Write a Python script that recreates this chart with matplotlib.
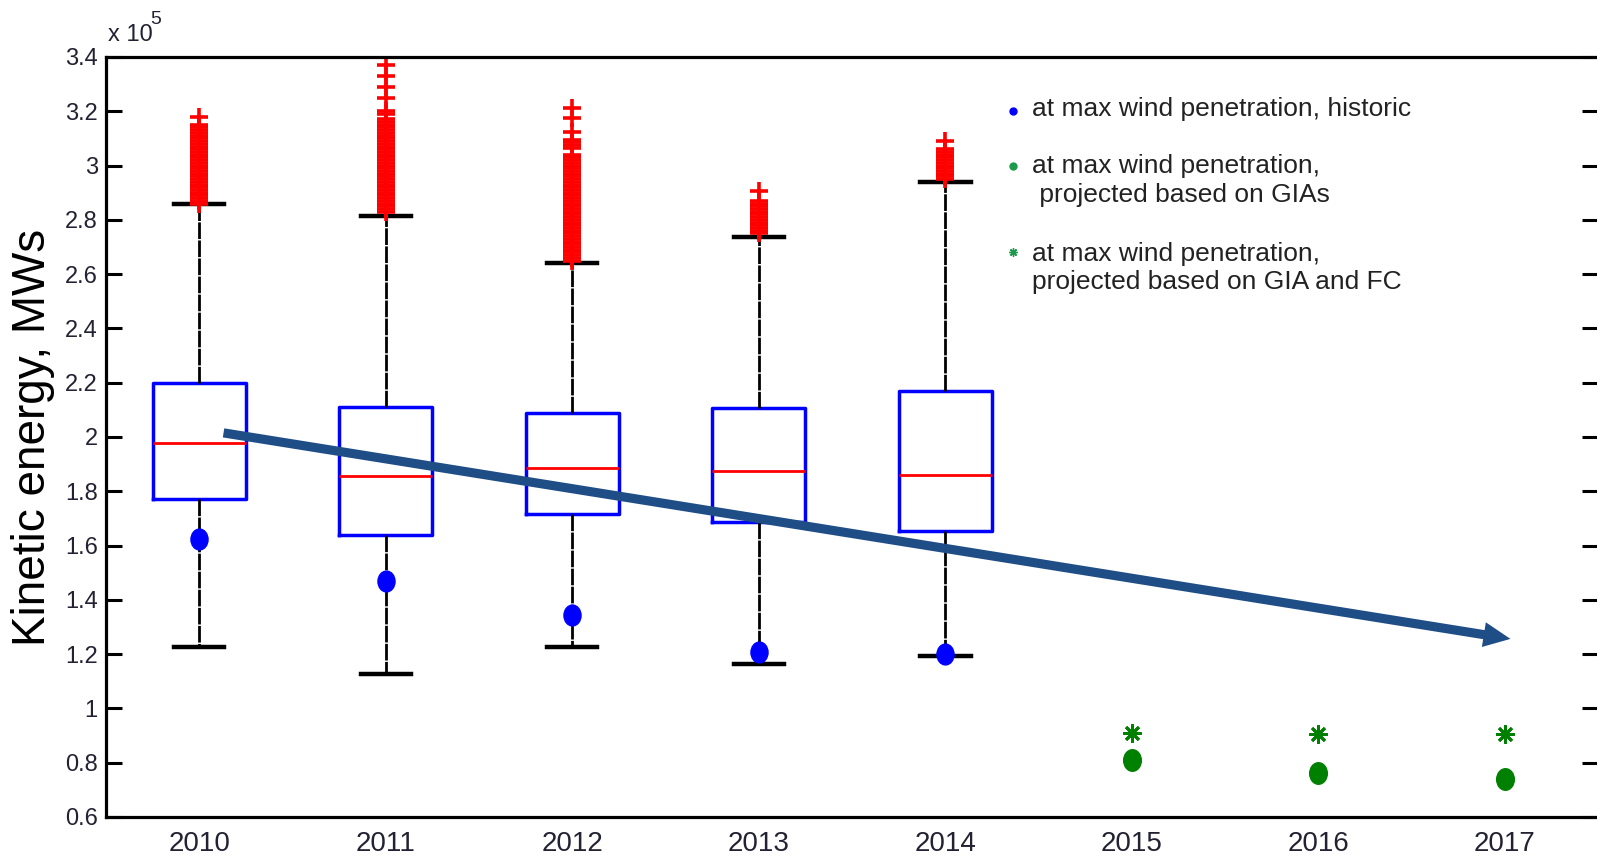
import matplotlib
matplotlib.use("Agg")
import matplotlib.pyplot as plt
from matplotlib.path import Path
from matplotlib.transforms import Affine2D

plt.rcParams['font.family'] = ['Liberation Sans', 'DejaVu Sans']

# kinetic energy in units of 1e5 MWs
box_years = [2010, 2011, 2012, 2013, 2014]
q1 = [1.771, 1.639, 1.715, 1.685, 1.655]
med = [1.978, 1.856, 1.887, 1.876, 1.858]
q3 = [2.199, 2.110, 2.087, 2.105, 2.168]
whis_lo = [1.227, 1.127, 1.226, 1.163, 1.193]
whis_hi = [2.858, 2.814, 2.641, 2.737, 2.938]

out_2010 = [2.86, 2.87, 2.88, 2.89, 2.90, 2.91, 2.92, 2.93, 2.94, 2.95,
            2.96, 2.97, 2.98, 2.99, 3.00, 3.01, 3.02, 3.03, 3.04, 3.05,
            3.06, 3.07, 3.08, 3.09, 3.10, 3.11, 3.12, 3.13, 3.14, 3.15, 3.18]
out_2011 = [2.83, 2.84, 2.85, 2.86, 2.87, 2.88, 2.89, 2.90, 2.91, 2.92,
            2.93, 2.94, 2.95, 2.96, 2.97, 2.98, 2.99, 3.00, 3.01, 3.02,
            3.03, 3.04, 3.05, 3.06, 3.07, 3.08, 3.09, 3.10, 3.11, 3.12,
            3.13, 3.14, 3.15, 3.16, 3.17, 3.19, 3.20, 3.25, 3.29, 3.33, 3.37]
out_2012 = [2.65, 2.66, 2.67, 2.68, 2.69, 2.70, 2.71, 2.72, 2.73, 2.74,
            2.75, 2.76, 2.77, 2.78, 2.79, 2.80, 2.81, 2.82, 2.83, 2.84,
            2.85, 2.86, 2.87, 2.88, 2.89, 2.90, 2.91, 2.92, 2.93, 2.94,
            2.95, 2.96, 2.97, 2.98, 2.99, 3.00, 3.01, 3.02, 3.03, 3.04,
            3.065, 3.075, 3.085, 3.095, 3.125, 3.175, 3.21]
out_2013 = [2.75, 2.76, 2.77, 2.78, 2.79, 2.80, 2.81, 2.82, 2.83, 2.84,
            2.85, 2.86, 2.87, 2.905]
out_2014 = [2.95, 2.96, 2.97, 2.98, 2.99, 3.00, 3.01, 3.02, 3.03, 3.04,
            3.05, 3.06, 3.09]
outliers = [out_2010, out_2011, out_2012, out_2013, out_2014]

hist_min = [1.624, 1.471, 1.344, 1.208, 1.200]

proj_years = [2015, 2016, 2017]
proj_gia = [0.810, 0.762, 0.740]
proj_gia_fc = [0.910, 0.905, 0.905]

trend_start = (2010.13, 2.015)
trend_end = (2017.03, 1.256)

year_ticks = [2010, 2011, 2012, 2013, 2014, 2015, 2016, 2017]
y_ticks = [0.6, 0.8, 1.0, 1.2, 1.4, 1.6, 1.8, 2.0, 2.2, 2.4, 2.6, 2.8, 3.0, 3.2, 3.4]
y_tick_labels = ['0.6', '0.8', '1', '1.2', '1.4', '1.6', '1.8', '2', '2.2', '2.4',
                 '2.6', '2.8', '3', '3.2', '3.4']

oval = Path.unit_circle().transformed(Affine2D().scale(0.82, 1.0))

fig = plt.figure(figsize=(15.97, 8.56), dpi=100)
ax = fig.add_axes([0.0664, 0.0456, 0.9343, 0.8879])

stats = []
for i in range(len(box_years)):
    stats.append(dict(med=med[i], q1=q1[i], q3=q3[i], whislo=whis_lo[i],
                      whishi=whis_hi[i], fliers=outliers[i]))

ax.bxp(stats, positions=box_years, widths=0.5, capwidths=0.27,
       boxprops=dict(color='blue', lw=2.5),
       medianprops=dict(color='red', lw=2.0),
       whiskerprops=dict(color='black', lw=2.0, linestyle=(0, (6, 0.5))),
       capprops=dict(color='black', lw=3.2),
       flierprops=dict(marker='+', markeredgecolor='red', markersize=13,
                       markeredgewidth=2.6, linestyle='none'),
       manage_ticks=False)

ax.plot(box_years, hist_min, linestyle='none', marker=oval, markersize=15,
        color='blue', zorder=4)
ax.plot(proj_years, proj_gia, linestyle='none', marker=oval, markersize=15.5,
        color='green', zorder=4)
ax.plot(proj_years, proj_gia_fc, linestyle='none', marker=(8, 2, 0), markersize=13,
        markeredgewidth=2.0, color='green', zorder=4)

ax.annotate('', xy=trend_end, xytext=trend_start,
            arrowprops=dict(arrowstyle='simple,head_length=0.97,head_width=0.9,tail_width=0.33',
                            mutation_scale=20, color='#1f4e87', lw=0,
                            shrinkA=0, shrinkB=0), zorder=5)

ax.set_xlim(2009.5, 2017.5)
ax.set_ylim(0.6, 3.4)
ax.set_xticks(year_ticks)
ax.set_xticklabels([str(y) for y in year_ticks], family=['Liberation Sans Narrow', 'Liberation Sans'],
                   fontsize=20, color='#222233')
ax.set_yticks(y_ticks)
ax.set_yticklabels(y_tick_labels, fontsize=17, color='#222233')
ax.tick_params(axis='x', length=0, pad=10)
ax.tick_params(axis='y', direction='in', length=11.5, width=2.2, left=True, right=True, pad=6)
for side in ['left', 'bottom', 'top']:
    ax.spines[side].set_linewidth(2.3)
ax.spines['right'].set_visible(False)

ax.set_ylabel('Kinetic energy, MWs', fontsize=33)
ax.yaxis.set_label_coords(-0.034, 0.5)

fig.text(108 / 1597, 1 - 35 / 856, 'x 10', fontsize=17, va='center', color='#222233')
fig.text(150 / 1597, 1 - 19 / 856, '5', fontsize=14, va='center', color='#222233')

# legend, drawn by hand to keep the marker on the first text line
leg_fs = 19
leg_x_mark = 1013 / 1597
leg_x_text = 1032 / 1597
fig.lines.append(plt.Line2D([leg_x_mark], [1 - 111 / 856], transform=fig.transFigure,
                            marker='o', markersize=5, color='blue', linestyle='none'))
fig.lines.append(plt.Line2D([leg_x_mark], [1 - 166 / 856], transform=fig.transFigure,
                            marker='o', markersize=5, color='#1a9a4a', linestyle='none'))
fig.lines.append(plt.Line2D([leg_x_mark], [1 - 252 / 856], transform=fig.transFigure,
                            marker=(8, 2, 0), markersize=6, markeredgewidth=1,
                            color='#1a9a4a', linestyle='none'))
fig.text(leg_x_text, 1 - 109 / 856, 'at max wind penetration, historic', fontsize=leg_fs,
         va='center', color='#222222')
fig.text(leg_x_text, 1 - 166 / 856, 'at max wind penetration,', fontsize=leg_fs,
         va='center', color='#222222')
fig.text(leg_x_text, 1 - 195 / 856, ' projected based on GIAs', fontsize=leg_fs,
         va='center', color='#222222')
fig.text(leg_x_text, 1 - 254 / 856, 'at max wind penetration,', fontsize=leg_fs,
         va='center', color='#222222')
fig.text(leg_x_text, 1 - 282 / 856, 'projected based on GIA and FC', fontsize=leg_fs,
         va='center', color='#222222')

fig.savefig('out.png', dpi=100)
